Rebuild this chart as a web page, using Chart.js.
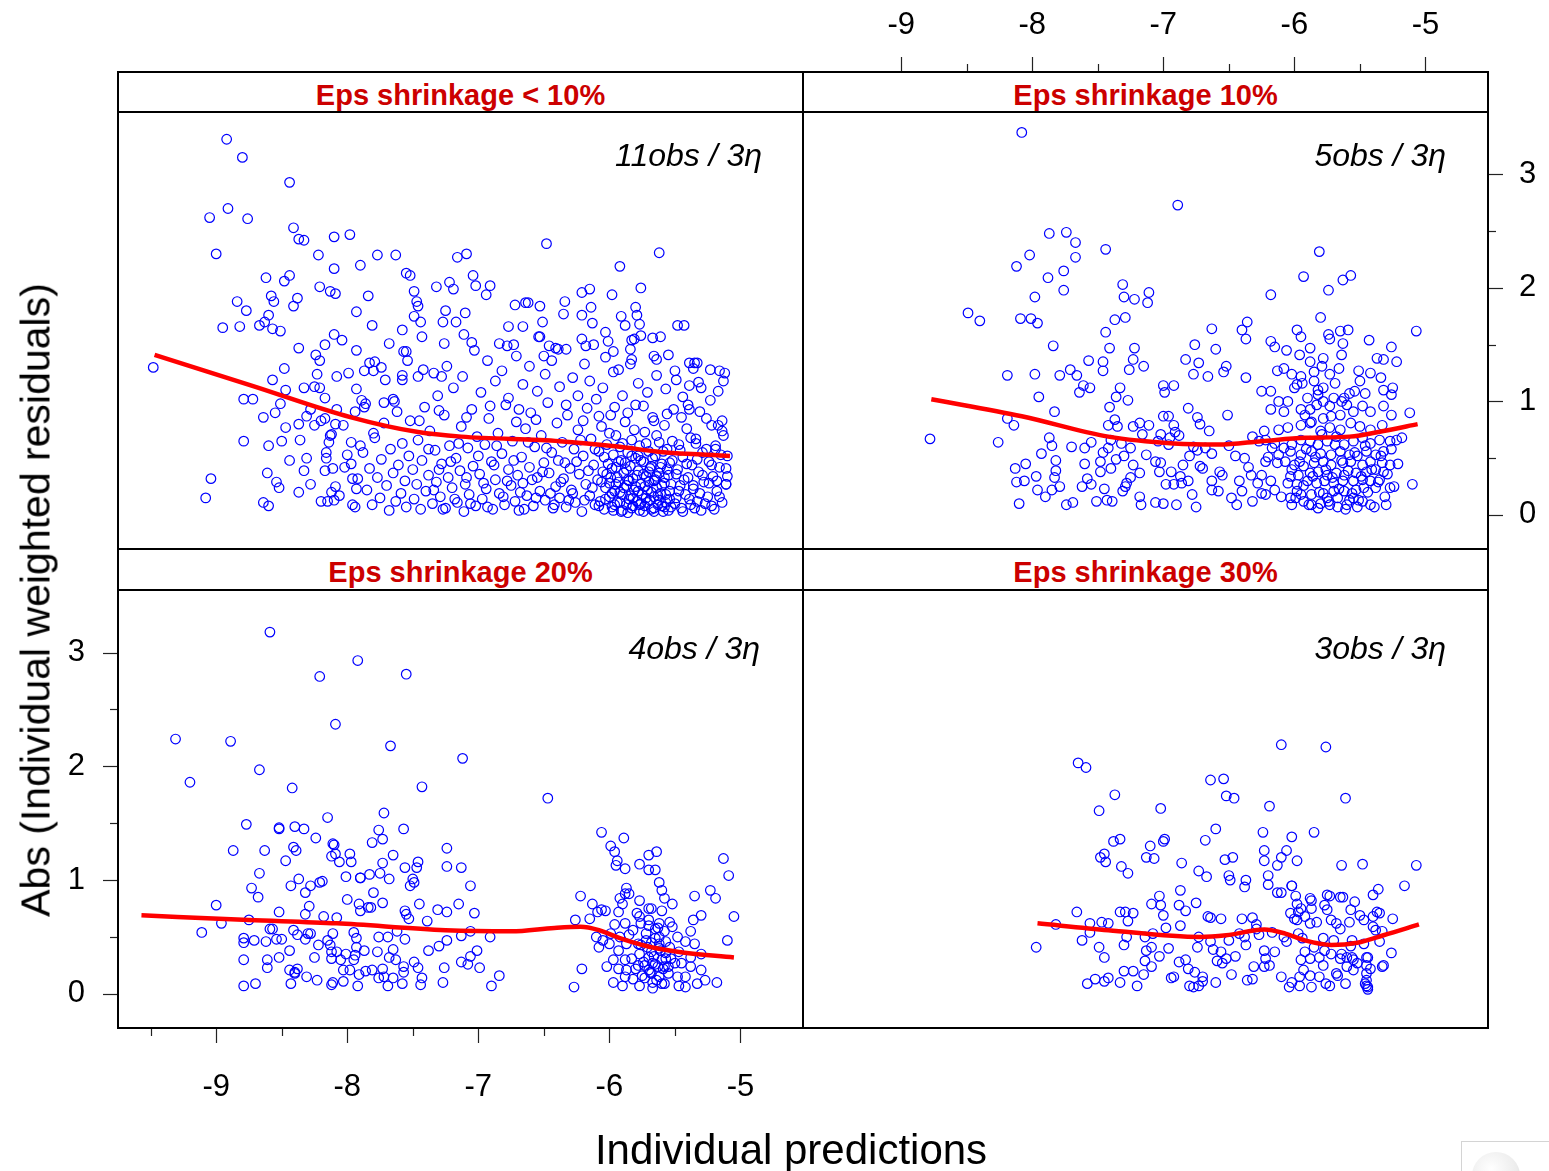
<!DOCTYPE html>
<html>
<head>
<meta charset="utf-8">
<script src="https://cdn.jsdelivr.net/npm/chart.js@4.4.1/dist/chart.umd.min.js"></script>
<style>
  html, body { margin: 0; padding: 0; background: #fff; }
  #page { position: relative; width: 1549px; height: 1171px; overflow: hidden; background: #fff;
          font-family: 'Liberation Sans', Arial, sans-serif; }
  canvas { position: absolute; z-index: 1; }
  .strip { position: absolute; z-index: 2; background: #fff; color: #cc0000; font-weight: bold;
           font-size: 29px; display: flex; align-items: center; justify-content: center; line-height: 1;
           box-sizing: border-box; padding-top: 6px; }
  .hl { position: absolute; z-index: 3; height: 2px; background: #000; }
  .vl { position: absolute; z-index: 3; width: 2px; background: #000; }
  .note { position: absolute; z-index: 4; font-style: italic; font-size: 32px; line-height: 1;
          white-space: nowrap; transform: translate(-100%, -50%); }
  .title { position: absolute; z-index: 4; white-space: nowrap; line-height: 1; color: #000; }
  #corner { position: absolute; left: 1461px; top: 1141px; width: 100px; height: 40px;
            border: 1px solid #d4d4d4; background: #fff; z-index: 4; }
  #corner span { position: absolute; left: 10px; top: 10px; width: 48px; height: 48px; border-radius: 50%;
                 background: radial-gradient(circle at 40% 35%, #ffffff 0%, #ececec 60%, #cfcfcf 100%); }
</style>
</head>
<body>
<div id="page">
  <canvas id="cLt10" width="685" height="437" style="left:118px;top:112px"></canvas>
  <canvas id="c10" width="746" height="549" style="left:803px;top:0px"></canvas>
  <canvas id="c20" width="803" height="581" style="left:0px;top:590px"></canvas>
  <canvas id="c30" width="685" height="438" style="left:803px;top:590px"></canvas>

  <div class="strip" id="s0" style="left:118px;top:72px;width:685px;height:40px"></div>
  <div class="strip" id="s1" style="left:803px;top:72px;width:685px;height:40px"></div>
  <div class="strip" id="s2" style="left:118px;top:549px;width:685px;height:41px"></div>
  <div class="strip" id="s3" style="left:803px;top:549px;width:685px;height:41px"></div>

  <div class="hl" style="left:117px;top:71px;width:1372px"></div>
  <div class="hl" style="left:117px;top:111px;width:1372px"></div>
  <div class="hl" style="left:117px;top:548px;width:1372px"></div>
  <div class="hl" style="left:117px;top:589px;width:1372px"></div>
  <div class="hl" style="left:117px;top:1027px;width:1372px"></div>
  <div class="vl" style="left:117px;top:71px;height:958px"></div>
  <div class="vl" style="left:802px;top:71px;height:958px"></div>
  <div class="vl" style="left:1487px;top:71px;height:958px"></div>

  <div class="note" id="n0" style="left:762px;top:155px"></div>
  <div class="note" id="n1" style="left:1446px;top:155px"></div>
  <div class="note" id="n2" style="left:760px;top:648px"></div>
  <div class="note" id="n3" style="left:1446px;top:648px"></div>

  <div class="title" style="left:791px;top:1150px;font-size:42px;transform:translate(-50%,-50%)">Individual predictions</div>
  <div class="title" style="left:36px;top:600px;font-size:41px;transform:translate(-50%,-50%) rotate(-90deg)">Abs (Individual weighted residuals)</div>
  <div id="corner"><span></span></div>
</div>
<script>
// panel labels
const stripLabels = ['Eps shrinkage < 10%', 'Eps shrinkage 10%', 'Eps shrinkage 20%', 'Eps shrinkage 30%'];
const designLabels = ['11obs / 3\u03b7', '5obs / 3\u03b7', '4obs / 3\u03b7', '3obs / 3\u03b7'];

// axis ticks (integers labelled, halves as short marks)
const xTicksTop = [-9, -8.5, -8, -7.5, -7, -6.5, -6, -5.5, -5];
const xTicksBottom = [-9.5, -9, -8.5, -8, -7.5, -7, -6.5, -6, -5.5, -5];
const yTicks = [0, 0.5, 1, 1.5, 2, 2.5, 3];

// |IWRES| vs IPRED, one array of [ipred, |iwres|] per shrinkage level
const ptsLt10 = [
  [-8.92,3.31],[-8.80,3.15],[-8.44,2.93],[-9.05,2.62],[-8.91,2.70],[-8.76,2.61],[-8.41,2.53],[-8.37,2.43],[-8.33,2.42],[-8.10,2.45],
  [-7.98,2.47],[-9.00,2.30],[-8.22,2.29],[-7.77,2.29],[-7.63,2.29],[-7.90,2.20],[-7.16,2.27],[-8.62,2.09],[-8.44,2.11],[-8.48,2.06],
  [-8.10,2.17],[-7.55,2.13],[-7.52,2.11],[-8.21,2.01],[-8.13,1.97],[-8.09,1.95],[-7.84,1.93],[-7.49,1.97],[-7.32,2.01],[-7.22,2.05],
  [-7.19,1.99],[-8.58,1.93],[-8.56,1.88],[-8.38,1.91],[-8.41,1.84],[-8.84,1.88],[-8.77,1.80],[-7.47,1.88],[-7.46,1.84],[-7.49,1.75],
  [-7.44,1.70],[-7.93,1.79],[-8.60,1.76],[-8.63,1.70],[-8.67,1.67],[-8.57,1.64],[-8.51,1.62],[-8.95,1.65],[-8.82,1.66],[-7.25,1.80],
  [-7.27,1.70],[-7.17,1.70],[-7.81,1.67],[-7.58,1.63],[-7.43,1.57],[-8.10,1.59],[-8.04,1.54],[-7.26,1.51],[-8.37,1.47],[-8.17,1.50],
  [-8.24,1.41],[-8.21,1.36],[-7.93,1.45],[-7.68,1.51],[-7.55,1.44],[-9.48,1.30],[-8.48,1.29],[-8.23,1.24],[-8.08,1.22],[-7.99,1.25],
  [-7.83,1.34],[-7.79,1.35],[-7.74,1.30],[-7.87,1.27],[-7.80,1.27],[-7.54,1.36],[-7.57,1.44],[-8.57,1.19],[-8.47,1.10],[-8.79,1.02],
  [-8.72,1.02],[-8.51,0.98],[-8.55,0.90],[-8.64,0.86],[-8.33,1.12],[-8.25,1.13],[-8.21,1.12],[-8.17,1.03],[-7.93,1.11],[-7.71,1.19],
  [-7.58,1.23],[-7.58,1.19],[-7.46,1.22],[-7.42,1.28],[-7.34,1.25],[-7.28,1.22],[-7.89,1.01],[-7.86,0.98],[-7.87,0.95],[-7.72,0.99],
  [-7.65,1.02],[-7.64,1.00],[-8.79,0.65],[-8.60,0.61],[-8.50,0.65],[-8.36,0.66],[-8.47,0.77],[-8.37,0.80],[-8.31,0.87],[-8.25,0.79],
  [-8.20,0.83],[-8.17,0.85],[-8.09,0.80],[-8.03,0.79],[-8.28,0.93],[-8.08,0.93],[-7.94,0.91],[-8.13,0.70],[-8.14,0.64],[-7.97,0.64],
  [-7.90,0.61],[-7.80,0.72],[-8.44,0.48],[-8.31,0.50],[-8.33,0.39],[-8.16,0.50],[-8.17,0.39],[-8.11,0.41],[-8.61,0.37],[-8.54,0.29],
  [-8.52,0.24],[-8.37,0.20],[-9.04,0.32],[-9.08,0.15],[-8.64,0.11],[-8.60,0.08],[-8.15,0.12],[-8.10,0.13],[-8.09,0.25],[-8.12,0.20],
  [-7.97,0.45],[-8.00,0.53],[-7.94,0.07],[-7.96,0.32],[-7.92,0.32],[-8.28,0.27],[-8.20,0.12],[-8.16,0.55],[-8.06,0.17],[-8.02,0.42],
  [-7.96,0.09],[-7.93,0.23],[-8.12,0.71],
  [-6.48,2.39],[-5.62,2.31],[-5.92,2.19],[-7.09,2.30],[-7.04,2.11],[-7.02,2.02],[-6.91,2.02],[-6.94,1.94],[-5.76,2.00],[-5.98,1.94],
  [-6.21,1.96],[-6.15,1.99],[-6.72,1.85],[-6.64,1.87],[-6.62,1.87],[-6.53,1.84],[-6.34,1.88],[-6.35,1.77],[-7.10,1.78],[-5.80,1.83],
  [-5.79,1.76],[-5.91,1.75],[-5.77,1.68],[-5.88,1.67],[-6.14,1.83],[-6.21,1.76],[-6.13,1.69],[-6.77,1.66],[-6.66,1.66],[-6.51,1.70],
  [-6.54,1.57],[-5.48,1.67],[-5.43,1.67],[-6.03,1.61],[-6.01,1.53],[-5.76,1.58],[-5.83,1.54],[-5.81,1.55],[-5.67,1.56],[-5.61,1.57],
  [-7.11,1.59],[-7.05,1.52],[-6.84,1.51],[-6.78,1.49],[-6.73,1.50],[-6.53,1.57],[-6.46,1.49],[-6.39,1.46],[-6.41,1.47],[-6.50,1.40],
  [-6.21,1.55],[-6.18,1.49],[-6.12,1.50],[-6.03,1.39],[-5.97,1.44],[-5.84,1.46],[-5.83,1.37],[-5.93,1.28],[-5.66,1.40],[-5.64,1.37],
  [-5.55,1.41],[-5.50,1.27],[-5.39,1.34],[-5.35,1.34],[-5.33,1.34],[-5.23,1.28],[-5.16,1.27],[-5.13,1.18],[-5.32,1.17],[-5.39,1.14],
  [-5.14,0.83],[-5.17,0.79],[-5.14,0.74],[-5.19,0.58],[-5.11,0.41],[-5.10,0.34],[-5.11,0.27],[-5.40,0.97],[-5.39,0.93],[-5.34,0.63],
  [-7.88,0.55],[-7.85,0.22],[-7.83,0.41],[-7.81,0.09],[-7.79,0.68],[-7.77,0.33],[-7.75,0.15],[-7.74,0.49],[-7.72,0.81],[-7.70,0.26],
  [-7.68,0.04],[-7.67,0.58],[-7.65,0.37],[-7.63,0.12],[-7.62,0.91],[-7.61,0.44],[-7.59,0.19],[-7.58,0.63],[-7.56,0.30],[-7.55,0.07],
  [-7.53,0.52],[-7.52,0.83],[-7.50,0.40],[-7.49,0.14],[-7.47,0.27],[-7.46,0.66],[-7.44,0.05],[-7.43,0.48],[-7.41,0.95],[-7.40,0.21],
  [-7.38,0.35],[-7.37,0.74],[-7.35,0.10],[-7.33,0.57],[-7.32,0.29],[-7.31,1.05],[-7.29,0.16],[-7.28,0.45],[-7.26,0.88],[-7.25,0.06],
  [-7.23,0.33],[-7.22,0.61],[-7.20,0.24],[-7.19,1.12],[-7.17,0.50],[-7.16,0.11],[-7.14,0.39],[-7.13,0.78],[-7.11,0.03],[-7.10,0.27],
  [-7.08,0.59],[-7.07,0.18],[-7.05,0.93],[-7.04,0.43],[-7.02,0.08],[-7.01,0.69],[-7.24,1.31],[-7.12,1.22],[-7.03,1.45],[-6.98,1.08],
  [-6.93,1.36],[-6.87,1.18],[-6.82,1.27],[-6.77,1.03],[-6.71,1.40],[-6.66,1.15],[-6.61,1.31],[-6.55,1.09],[-6.49,1.24],[-6.44,1.36],
  [-6.38,1.13],[-6.33,1.46],[-6.28,1.21],[-6.24,1.05],[-6.19,1.33],[-6.15,1.18],[-6.99,0.36],[-6.97,0.14],[-6.95,0.62],[-6.94,0.23],
  [-6.92,0.85],[-6.90,0.47],[-6.89,0.05],[-6.87,0.31],[-6.85,0.72],[-6.84,0.19],[-6.82,0.54],[-6.80,0.09],[-6.79,0.97],[-6.77,0.40],
  [-6.75,0.26],[-6.74,0.65],[-6.72,0.12],[-6.71,0.82],[-6.70,0.35],[-6.69,0.04],[-6.67,0.51],[-6.66,0.28],[-6.64,0.76],[-6.63,0.17],
  [-6.61,0.42],[-6.60,0.90],[-6.58,0.08],[-6.57,0.60],[-6.55,0.33],[-6.53,0.21],[-6.52,0.70],[-6.50,0.46],[-6.49,0.13],[-6.47,0.99],
  [-6.46,0.37],[-6.44,0.55],[-6.43,0.06],[-6.41,0.25],[-6.40,0.81],[-6.39,0.48],[-6.38,0.15],[-6.36,0.64],[-6.35,0.32],[-6.33,0.07],
  [-6.32,0.88],[-6.30,0.41],[-6.29,0.22],[-6.27,0.58],[-6.26,0.11],[-6.24,0.75],[-6.23,0.36],[-6.21,0.03],[-6.20,0.52],[-6.18,0.27],
  [-6.17,0.94],[-6.15,0.17],[-6.14,0.67],[-6.12,0.44],[-6.11,0.09],[-6.10,1.02],[-6.09,0.31],[-6.08,0.56],[-6.07,0.12],[-6.06,0.78],
  [-6.05,0.38],[-6.04,0.05],[-6.03,0.24],[-6.02,0.62],[-6.01,0.45],[-6.00,0.16],[-5.99,0.88],[-5.99,0.33],[-5.98,0.07],[-5.97,0.53],
  [-5.96,0.21],[-5.95,0.70],[-5.95,0.42],[-5.94,0.11],[-5.93,0.29],[-5.92,0.60],[-5.91,0.03],[-5.91,0.48],[-5.90,0.18],[-5.89,0.37],
  [-5.88,0.82],[-5.87,0.09],[-5.87,0.26],[-5.86,0.55],[-5.85,0.14],[-5.84,0.43],[-5.83,0.66],[-5.83,0.06],[-5.82,0.32],[-5.81,0.22],
  [-5.80,0.97],[-5.80,0.50],[-5.79,0.12],[-5.78,0.39],[-5.77,0.04],[-5.77,0.61],[-5.76,0.27],[-5.75,0.18],[-5.74,0.47],[-5.73,0.08],
  [-5.73,0.73],[-5.72,0.34],[-5.71,0.22],[-5.70,0.56],[-5.69,0.13],[-5.69,0.41],[-5.68,0.05],[-5.67,0.86],[-5.66,0.30],[-5.66,0.16],
  [-5.65,0.52],[-5.64,0.24],[-5.63,0.09],[-5.62,0.64],[-5.62,0.37],[-5.61,0.19],[-5.60,0.45],[-5.59,0.03],[-5.58,0.28],[-5.58,0.79],
  [-5.57,0.11],[-5.56,0.58],[-5.55,0.35],[-5.54,0.21],[-5.53,0.07],[-5.52,0.48],[-5.51,0.93],[-5.49,0.15],[-5.48,0.40],[-5.47,0.62],
  [-5.46,0.26],[-5.45,0.06],[-5.44,0.51],[-5.42,0.18],[-5.41,0.76],[-5.40,0.33],[-5.38,0.09],[-5.37,0.44],[-5.36,0.23],[-5.34,0.67],
  [-5.33,0.12],[-5.32,0.38],[-5.30,0.04],[-5.29,0.55],[-5.28,0.29],[-5.26,0.85],[-5.25,0.16],[-5.24,0.47],[-5.22,0.08],[-5.21,0.34],
  [-5.19,0.61],[-5.18,0.21],[-5.16,0.42],[-5.14,0.11],[-5.13,0.70],[-5.11,0.27],[-5.10,0.52],[-6.05,1.12],[-5.97,1.26],[-5.90,1.05],
  [-5.84,1.33],[-5.78,1.16],[-5.71,1.08],[-5.64,1.23],[-5.57,1.11],[-5.49,1.19],[-5.44,1.04],[-5.36,1.29],[-5.30,1.12],[-5.23,1.01],
  [-5.17,1.09],[-5.12,1.25],[-6.03,0.14],[-6.00,0.28],[-5.98,0.41],[-5.96,0.09],[-5.94,0.33],[-5.92,0.20],[-5.90,0.04],[-5.88,0.46],
  [-5.86,0.31],[-5.84,0.17],[-5.82,0.08],[-5.80,0.25],[-5.78,0.52],[-5.76,0.10],[-5.74,0.36],[-5.72,0.15],[-5.70,0.29],[-5.68,0.43],
  [-5.66,0.06],[-5.64,0.34],[-5.62,0.13],[-5.60,0.26],[-5.58,0.07],[-5.56,0.40],[-5.54,0.14],
  [-6.28,0.19],[-6.25,0.47],[-6.22,0.66],[-6.19,0.13],[-6.16,0.39],[-6.13,0.24],[-6.11,0.58],[-6.08,0.08],[-6.06,0.29],[-6.04,0.51],
  [-6.02,0.36],[-6.00,0.72],[-5.98,0.19],[-5.97,0.04],[-5.95,0.27],[-5.93,0.47],[-5.92,0.11],[-5.90,0.63],[-5.89,0.24],[-5.87,0.40],
  [-5.86,0.02],[-5.85,0.30],[-5.83,0.52],[-5.82,0.15],[-5.81,0.75],[-5.79,0.35],[-5.78,0.21],[-5.77,0.09],[-5.76,0.48],[-5.74,0.03],
  [-5.73,0.25],[-5.72,0.63],[-5.71,0.11],[-5.70,0.38],[-5.68,0.20],[-5.67,0.50],[-5.66,0.03],[-5.65,0.31],[-5.64,0.70],[-5.63,0.17],
  [-5.61,0.42],[-5.60,0.08],[-5.59,0.56],[-5.58,0.33],[-5.57,0.18],[-5.55,0.04],[-5.54,0.46],[-5.53,0.27],[-5.52,0.65],[-5.50,0.10],
  [-5.49,0.36],[-5.47,0.21],[-5.46,0.57],[-5.44,0.03],[-5.43,0.31],[-5.41,0.45],[-5.39,0.14],[-5.38,0.68],[-5.36,0.26],[-5.35,0.06],
  [-5.33,0.49],[-5.31,0.19],[-5.29,0.35],[-5.27,0.10],[-5.26,0.58],[-5.24,0.28],[-5.22,0.44],[-5.20,0.05],[-5.18,0.30],[-5.16,0.16],
  [-5.15,0.53],[-7.38,0.58],[-7.34,0.22],[-7.30,0.40],[-7.27,0.05],[-7.21,0.47],[-7.18,0.14],[-7.15,0.63],[-7.09,0.33],[-7.06,0.10],
  [-7.00,0.52],[-6.96,0.28],[-6.93,0.07],[-6.88,0.44],[-6.86,0.61],[-6.81,0.16],[-6.78,0.30],[-6.73,0.48],[-6.68,0.20],[-6.65,0.05],
  [-6.62,0.64],[-6.59,0.31],[-6.56,0.15],[-6.51,0.38],[-6.48,0.59],[-6.45,0.19],[-6.42,0.09],[-6.37,0.29],[-6.34,0.46],[-6.31,0.13],
  [-6.08,0.87],[-5.96,0.95],[-5.86,0.90],[-5.74,0.96],[-5.66,0.83],[-5.56,0.89],[-5.45,0.86],[-5.31,0.91],[-5.22,0.79],[-6.20,0.83],
  [-6.33,0.97],[-6.56,0.84],[-6.69,0.93],[-6.91,0.96],[-7.09,0.86],[-7.30,0.92],[-7.45,0.83]
];

const pts10 = [
  [-8.08,3.37],[-6.89,2.73],[-7.87,2.48],[-7.74,2.49],[-7.67,2.40],[-8.02,2.29],[-8.12,2.19],[-7.67,2.27],[-7.44,2.34],[-7.88,2.09],
  [-7.76,2.15],[-7.76,1.98],[-7.98,1.92],[-7.31,2.03],[-7.30,1.92],[-7.22,1.90],[-7.11,1.96],[-7.12,1.87],[-8.49,1.78],[-8.40,1.71],
  [-8.09,1.73],[-8.01,1.73],[-7.96,1.69],[-7.37,1.72],[-7.29,1.74],[-7.44,1.61],[-7.84,1.49],[-7.41,1.47],[-7.22,1.47],[-7.57,1.36],
  [-7.46,1.35],[-7.46,1.27],[-7.23,1.37],[-7.26,1.28],[-7.15,1.31],[-8.19,1.23],[-7.98,1.24],[-7.79,1.23],[-7.71,1.28],[-7.66,1.23],
  [-7.61,1.14],[-7.56,1.12],[-7.64,1.08],[-7.33,1.12],[-7.36,1.04],[-7.27,1.01],[-7.95,1.04],[-7.83,0.91],[-7.41,0.95],[-8.19,0.85],
  [-8.14,0.79],[-7.87,0.68],[-8.26,0.64],[-8.78,0.67],[-7.85,0.61],[-7.93,0.54],[-7.82,0.48],[-7.82,0.39],[-8.05,0.45],[-8.13,0.41],
  [-8.12,0.29],[-8.06,0.30],[-7.97,0.34],[-7.96,0.22],[-7.90,0.16],[-7.85,0.22],[-7.79,0.25],[-7.83,0.33],[-8.10,0.10],[-7.74,0.09],
  [-7.69,0.11],
  [-7.42,0.79],[-7.37,0.84],[-7.35,0.78],[-7.40,0.66],[-7.32,0.63],[-7.42,0.59],[-7.46,0.55],[-7.55,0.64],[-7.60,0.59],[-7.48,0.47],
  [-7.36,0.49],[-7.30,0.52],[-7.40,0.41],[-7.48,0.38],[-7.58,0.32],[-7.62,0.25],[-7.55,0.27],[-7.51,0.12],[-7.43,0.13],[-7.39,0.12],
  [-7.29,0.25],[-7.31,0.21],[-7.28,0.28],[-7.18,0.16],[-7.17,0.09],[-7.18,0.37],[-7.23,0.44],[-7.25,0.59],[-7.23,0.78],[-7.18,0.81],
  [-7.11,0.79],[-7.16,0.71],[-7.04,0.65],[-6.96,0.62],[-7.06,0.47],[-7.02,0.46],[-7.03,0.38],[-7.06,0.11],[-7.00,0.10],[-6.90,0.09],
  [-6.94,0.38],[-6.92,0.27],[-6.86,0.28],[-6.81,0.30],[-6.85,0.44],[-6.87,0.34],[-6.77,0.60],[-6.74,0.57],[-6.68,0.59],[-6.63,0.54],
  [-6.72,0.43],[-6.70,0.41],[-6.78,0.18],[-6.75,0.07],[-6.63,0.30],[-6.63,0.22],[-6.57,0.38],[-6.55,0.35],[-6.48,0.15],[-6.45,0.52],
  [-6.38,0.50],[-6.42,0.30],[-6.40,0.21],[-6.32,0.12],[-6.33,0.35],[-6.25,0.35],[-6.22,0.18],[-6.18,0.30],[-6.25,0.19],[-7.00,0.87],
  [-6.96,0.87],[-6.92,0.79],[-6.91,0.73],[-6.88,0.70],[-7.02,0.71],[-6.95,0.68],[-6.81,0.94],[-6.74,0.86],[-6.72,0.80],[-6.51,0.88],
  [-6.60,1.46],[-6.63,1.64],[-6.76,1.50],[-6.73,1.34],[-6.83,1.37],[-6.77,1.24],[-6.66,1.22],[-6.54,1.26],[-6.52,1.31],[-6.37,1.21],
  [-6.92,1.14],[-7.00,1.14],[-6.99,1.08],[-6.40,1.63],[-6.36,1.70],[-6.37,1.55],[-6.18,1.94],[-6.18,1.53],[-6.15,1.48],[-6.06,1.45],
  [-5.96,1.41],[-5.88,1.47],[-5.98,1.63],[-5.95,1.57],[-5.93,2.10],[-5.81,2.32],[-5.80,1.74],[-5.74,1.98],[-5.63,2.07],[-5.57,2.11],
  [-5.74,1.59],[-5.73,1.55],[-5.63,1.51],[-5.59,1.63],[-5.65,1.62],[-5.43,1.54],[-5.26,1.48],[-5.07,1.62],[-5.64,1.41],[-5.78,1.38],
  [-5.88,1.35],[-5.79,1.31],[-5.66,1.29],[-5.73,1.24],[-5.85,1.26],[-6.13,1.27],[-6.08,1.29],[-6.02,1.24],[-5.95,1.22],[-5.94,1.16],
  [-5.85,1.18],[-5.82,1.10],[-5.69,1.16],[-5.78,1.12],[-5.51,1.27],[-5.50,1.18],[-5.42,1.25],[-5.37,1.38],[-5.32,1.37],[-5.22,1.35],
  [-5.34,1.21],[-5.32,1.10],[-5.25,1.12],[-5.26,1.06],[-5.46,1.07],[-5.54,1.09],[-6.18,1.09],[-6.25,1.09],[-6.12,1.00],[-6.05,1.00],
  [-6.08,0.91],[-6.18,0.93],[-6.00,1.12],[-5.98,1.15],[-5.90,1.03],[-5.82,1.06],[-5.78,1.00],[-5.70,1.03],[-5.62,1.03],[-5.58,1.07],
  [-5.60,0.97],[-5.64,1.00],[-5.73,0.96],[-5.83,0.97],[-5.95,0.93],[-5.88,0.93],[-5.92,0.88],[-5.87,0.82],[-5.78,0.85],[-5.72,0.87],
  [-5.65,0.88],[-5.55,0.91],[-5.48,0.96],[-5.42,0.91],[-5.32,0.96],[-5.26,0.88],[-5.12,0.90],[-5.33,0.79],[-5.42,0.75],[-5.50,0.78],
  [-5.57,0.81],[-5.65,0.75],[-5.73,0.77],[-5.80,0.74],[-5.88,0.81],[-5.95,0.79],[-6.05,0.77],[-6.12,0.75],[-6.23,0.74],[-6.32,0.69],
  [-6.27,0.65],[-6.22,0.66],[-6.15,0.63],[-6.08,0.59],[-6.02,0.62],[-5.95,0.66],[-5.88,0.65],[-5.82,0.62],[-5.75,0.65],[-5.68,0.69],
  [-5.62,0.62],[-5.55,0.65],[-5.48,0.68],[-5.42,0.63],[-5.35,0.66],[-5.27,0.65],[-5.22,0.66],[-5.18,0.68],[-5.32,0.56],[-5.38,0.53],
  [-5.45,0.56],[-5.52,0.52],[-5.58,0.53],[-5.65,0.56],[-5.72,0.53],[-5.80,0.54],[-5.87,0.56],[-5.95,0.53],[-6.03,0.56],[-6.12,0.53],
  [-6.17,0.59],[-6.22,0.47],[-6.13,0.46],[-6.07,0.47],[-6.00,0.44],[-5.93,0.43],[-5.85,0.46],[-5.78,0.47],[-5.72,0.44],[-5.63,0.46],
  [-5.57,0.47],[-5.48,0.44],[-5.42,0.47],[-5.33,0.46],[-5.27,0.44],[-5.32,0.38],[-5.38,0.40],[-5.45,0.38],[-5.53,0.37],[-5.62,0.35],
  [-5.68,0.37],[-5.75,0.35],[-5.82,0.38],[-5.88,0.37],[-5.97,0.35],[-6.03,0.34],[-6.05,0.28],[-5.98,0.27],[-5.90,0.30],[-5.83,0.28],
  [-5.77,0.30],[-5.70,0.28],[-5.63,0.30],[-5.55,0.30],[-5.48,0.31],[-5.42,0.30],[-5.35,0.31],[-5.27,0.24],[-5.10,0.27],[-5.30,0.09],
  [-5.42,0.09],[-5.48,0.12],[-5.55,0.15],[-5.60,0.09],[-5.67,0.07],[-5.73,0.09],[-5.80,0.10],[-5.87,0.09],[-5.93,0.12],[-6.02,0.09],
  [-6.03,0.15],[-6.10,0.16],[-5.95,0.18],[-5.87,0.18],[-5.78,0.19],[-5.70,0.21],[-5.62,0.21],[-5.53,0.22],[-5.47,0.24],[-5.38,0.24],
  [-5.67,0.15],[-5.75,0.15],[-5.58,0.13],[-5.98,0.21],[-5.52,0.07],[-5.82,0.06],
  [-6.02,0.40],[-5.99,0.15],[-5.96,0.47],[-5.93,0.26],[-5.91,0.58],[-5.89,0.09],[-5.86,0.34],[-5.84,0.51],[-5.81,0.20],[-5.79,0.71],
  [-5.76,0.40],[-5.74,0.12],[-5.71,0.33],[-5.69,0.62],[-5.66,0.23],[-5.64,0.48],[-5.61,0.05],[-5.59,0.39],[-5.56,0.19],[-5.54,0.55],
  [-5.51,0.13],[-5.49,0.34],[-5.46,0.61],[-5.44,0.20],[-5.41,0.40],[-5.39,0.07],[-5.36,0.29],[-5.34,0.52],[-5.31,0.16],[-5.29,0.36],
  [-5.26,0.58],[-5.24,0.25],[-5.21,0.45],[-6.15,0.22],[-6.20,0.51],[-6.28,0.28],[-6.35,0.42],[-6.44,0.09],[-6.50,0.61],[-6.58,0.21],
  [-6.65,0.74],[-6.80,0.52],[-6.98,0.27],[-7.13,0.53],[-7.25,0.33],[-7.45,0.23],[-7.60,0.45],[-7.70,0.60]
];

const pts20 = [
  [-8.59,3.18],[-7.92,2.93],[-8.21,2.79],[-7.55,2.81],[-8.09,2.37],[-9.31,2.24],[-8.89,2.22],[-7.67,2.18],[-7.12,2.07],[-8.67,1.97],
  [-9.20,1.86],[-8.42,1.81],[-7.43,1.82],[-6.47,1.72],[-7.72,1.59],[-8.15,1.55],[-8.77,1.49],[-8.52,1.45],[-8.52,1.46],[-8.40,1.47],
  [-8.33,1.45],[-7.57,1.45],[-7.76,1.44],[-7.73,1.36],[-7.81,1.33],[-8.24,1.37],[-8.11,1.32],[-8.10,1.31],[-8.87,1.26],[-8.63,1.26],
  [-8.41,1.29],[-8.39,1.26],[-8.47,1.17],[-8.12,1.21],[-8.09,1.23],[-8.06,1.16],[-7.98,1.23],[-7.97,1.16],[-7.65,1.22],[-7.73,1.15],
  [-7.75,1.06],[-7.68,1.01],[-7.83,1.05],[-7.90,1.02],[-8.01,1.03],[-7.46,1.16],[-7.47,1.11],[-7.56,1.11],[-7.50,1.01],[-7.49,0.98],
  [-7.52,0.95],[-7.24,1.28],[-7.24,1.12],[-7.13,1.11],[-7.06,0.95],[-8.67,1.06],[-8.73,0.93],[-8.68,0.85],[-8.37,1.01],[-8.43,0.95],
  [-8.28,0.95],[-8.32,0.89],[-8.21,0.98],[-8.19,0.99],[-9.00,0.78],[-8.96,0.62],[-9.11,0.54],[-8.75,0.65],[-8.52,0.72],[-8.29,0.77],
  [-8.32,0.70],[-8.18,0.68],[-8.08,0.67],[-8.00,0.83],[-7.91,0.79],[-7.90,0.73],[-7.84,0.76],[-7.82,0.76],[-7.73,0.80],[-7.80,0.89],
  [-7.90,1.02],[-7.56,0.73],[-7.55,0.70],[-7.53,0.66],[-7.45,0.79],[-7.39,0.64],[-7.31,0.74],[-7.24,0.72],[-7.15,0.79],[-7.03,0.71],
  [-8.79,0.49],[-8.79,0.45],[-8.71,0.47],[-8.62,0.46],[-8.59,0.57],[-8.57,0.57],[-8.54,0.48],[-8.50,0.48],[-8.44,0.38],[-8.38,0.52],
  [-8.41,0.56],[-8.30,0.53],[-8.28,0.53],[-8.32,0.48],[-8.22,0.43],[-8.15,0.47],[-8.13,0.43],[-8.11,0.53],[-8.08,0.37],[-8.12,0.31],
  [-8.05,0.30],[-8.01,0.35],[-7.95,0.54],[-7.93,0.49],[-7.93,0.41],[-7.95,0.30],[-7.94,0.34],[-7.87,0.38],[-7.77,0.37],[-7.76,0.50],
  [-7.69,0.50],[-7.62,0.55],[-7.56,0.48],[-7.68,0.32],[-7.63,0.30],[-7.65,0.39],[-7.49,0.28],[-7.46,0.23],[-7.38,0.38],[-7.30,0.42],
  [-7.24,0.47],[-7.13,0.51],[-7.06,0.55],[-7.01,0.38],[-7.06,0.33],[-7.13,0.28],[-7.08,0.26],[-6.99,0.23],[-6.91,0.50],[-8.79,0.30],
  [-8.61,0.30],[-8.61,0.23],[-8.52,0.32],[-8.44,0.21],[-8.40,0.19],[-8.38,0.22],[-8.31,0.15],[-8.23,0.12],[-8.12,0.08],[-8.11,0.10],
  [-8.03,0.11],[-8.03,0.21],[-7.98,0.21],[-7.91,0.17],[-7.92,0.07],[-7.86,0.20],[-7.81,0.21],[-7.76,0.14],[-7.73,0.22],[-7.72,0.15],
  [-7.65,0.14],[-7.69,0.07],[-7.58,0.09],[-7.57,0.19],[-7.57,0.24],[-7.43,0.14],[-7.44,0.08],[-7.27,0.10],[-7.26,0.23],[-6.90,0.07],
  [-6.84,0.16],[-8.70,0.09],[-8.79,0.07],[-8.43,0.09],[-8.40,0.18],[-8.25,0.32],[-8.12,0.37],
  [-6.06,1.42],[-5.89,1.37],[-5.99,1.30],[-5.96,1.25],[-5.94,1.17],[-5.95,1.13],[-5.88,1.10],[-5.77,1.14],[-5.70,1.22],[-5.64,1.25],
  [-5.70,1.09],[-5.65,1.09],[-5.62,0.98],[-5.60,0.91],[-5.58,0.84],[-5.52,0.79],[-5.87,0.93],[-5.88,0.88],[-5.85,0.88],[-5.92,0.84],
  [-5.90,0.79],[-5.77,0.82],[-6.22,0.86],[-6.13,0.79],[-6.06,0.74],[-6.09,0.72],[-6.15,0.66],[-6.26,0.65],[-6.03,0.73],[-5.93,0.72],
  [-5.96,0.61],[-5.88,0.62],[-5.79,0.71],[-5.77,0.68],[-5.70,0.75],[-5.68,0.75],[-5.60,0.73],[-5.76,0.62],[-5.70,0.65],[-5.62,0.62],
  [-5.54,0.63],[-5.52,0.59],[-5.65,0.57],[-5.58,0.55],[-5.82,0.56],[-5.85,0.52],[-5.92,0.50],[-5.99,0.53],[-6.10,0.50],[-6.05,0.47],
  [-6.08,0.41],[-6.00,0.44],[-5.93,0.38],[-5.87,0.44],[-5.78,0.44],[-5.72,0.47],[-5.65,0.49],[-5.57,0.46],[-5.48,0.50],[-5.42,0.46],
  [-5.35,0.44],[-5.38,0.55],[-5.36,0.65],[-5.30,0.69],[-5.23,0.91],[-5.19,0.84],[-5.35,0.86],[-5.13,1.19],[-5.09,1.04],[-5.05,0.68],
  [-5.10,0.47],[-5.30,0.35],[-5.38,0.32],[-5.47,0.37],[-5.54,0.41],[-5.62,0.40],[-5.68,0.37],[-5.77,0.35],[-5.83,0.31],[-5.88,0.30],
  [-5.97,0.30],[-6.02,0.24],[-5.93,0.22],[-5.87,0.21],[-5.80,0.22],[-5.73,0.25],[-5.67,0.27],[-5.60,0.30],[-5.53,0.31],[-5.45,0.27],
  [-5.38,0.24],[-5.30,0.21],[-5.42,0.15],[-5.48,0.15],[-5.55,0.18],[-5.62,0.15],[-5.68,0.18],[-5.75,0.16],[-5.82,0.13],[-5.88,0.15],
  [-5.97,0.10],[-5.90,0.07],[-5.77,0.07],[-5.67,0.10],[-5.58,0.09],[-5.47,0.07],[-5.42,0.06],[-5.33,0.09],[-5.18,0.10],[-5.27,0.12],
  [-6.21,0.22],[-6.27,0.06],[-5.70,0.32],[-5.63,0.24],[-5.58,0.24],[-5.70,0.21],[-5.57,0.31],[-5.62,0.50],[-5.50,0.27],[-5.74,0.28],
  [-5.71,0.41],[-5.69,0.19],[-5.66,0.33],[-5.64,0.12],[-5.61,0.38],[-5.59,0.22],[-5.57,0.36],[-5.72,0.53],[-5.68,0.45],[-5.63,0.58],
  [-5.76,0.43],[-5.73,0.14],[-5.65,0.26],[-5.60,0.09],[-5.70,0.60],[-5.78,0.25],[-5.55,0.24],[-5.62,0.44],[-5.67,0.05]
];

const pts30 = [
  [-6.10,2.19],[-5.76,2.17],[-7.65,2.03],[-7.59,1.99],[-6.64,1.88],[-6.54,1.89],[-7.37,1.75],[-6.52,1.74],[-6.46,1.72],[-5.61,1.72],
  [-6.19,1.65],[-7.49,1.61],[-7.02,1.63],[-6.60,1.45],[-6.68,1.35],[-6.24,1.42],[-6.02,1.38],[-5.85,1.42],[-7.38,1.34],[-7.33,1.36],
  [-7.10,1.30],[-7.00,1.34],[-6.99,1.36],[-7.48,1.20],[-7.45,1.23],[-7.44,1.16],[-7.13,1.20],[-7.07,1.19],[-6.86,1.15],[-7.32,1.12],
  [-7.27,1.06],[-6.73,1.08],[-6.67,1.03],[-6.50,1.04],[-6.49,1.00],[-6.37,1.00],[-6.38,0.94],[-6.53,1.18],[-6.47,1.20],[-6.23,1.26],
  [-6.23,1.17],[-6.10,1.20],[-6.06,1.26],[-5.98,1.17],[-6.13,1.13],[-6.20,1.04],[-6.20,0.96],[-6.02,0.95],[-5.64,1.13],[-5.48,1.14],
  [-5.07,1.13],[-5.16,0.95],[-5.36,0.92],[-5.40,0.87],[-6.87,0.91],[-7.03,0.86],[-7.09,0.79],[-7.02,0.78],[-6.88,0.78],[-6.83,0.73],
  [-6.75,0.80],[-6.13,0.89],[-6.10,0.89],[-5.99,0.86],[-6.02,0.95],[-7.66,0.72],[-7.33,0.72],[-7.29,0.72],[-7.23,0.71],[-7.00,0.69],
  [-7.27,0.64],[-7.82,0.61],[-7.56,0.62],[-7.47,0.63],[-7.42,0.62],[-6.66,0.68],[-6.64,0.67],[-6.56,0.66],[-6.40,0.66],[-6.32,0.67],
  [-6.29,0.61],
  [-7.97,0.41],[-7.62,0.47],[-7.56,0.54],[-7.49,0.41],[-7.45,0.32],[-7.28,0.50],[-7.30,0.43],[-7.14,0.50],[-7.08,0.53],[-7.13,0.38],
  [-7.09,0.41],[-6.98,0.58],[-6.96,0.40],[-6.87,0.60],[-6.74,0.41],[-6.73,0.50],[-6.64,0.46],[-6.62,0.39],[-6.56,0.37],[-6.50,0.47],
  [-6.45,0.33],[-6.37,0.43],[-6.29,0.57],[-6.23,0.38],[-6.15,0.37],[-6.06,0.46],[-5.97,0.53],[-5.92,0.37],[-5.85,0.41],[-5.81,0.32],
  [-5.65,0.57],[-5.56,0.47],[-5.64,0.35],[-5.56,0.32],[-5.45,0.32],[-5.35,0.46],[-5.26,0.36],[-5.32,0.25],[-6.42,0.53],[-6.38,0.50],
  [-6.27,0.52],[-6.17,0.54],[-6.08,0.50],[-5.94,0.49],[-5.78,0.49],[-5.70,0.47],[-5.57,0.42],[-5.47,0.44],[-5.38,0.56],[-5.33,0.55],
  [-7.58,0.09],[-7.52,0.13],[-7.45,0.11],[-7.42,0.14],[-7.33,0.10],[-7.20,0.07],[-7.30,0.20],[-7.23,0.20],[-7.14,0.29],[-7.09,0.24],
  [-7.15,0.17],[-7.03,0.33],[-6.94,0.14],[-6.92,0.15],[-6.88,0.28],[-6.83,0.30],[-6.81,0.22],[-6.80,0.07],[-6.77,0.06],[-6.73,0.07],
  [-6.70,0.11],[-6.76,0.19],[-6.70,0.15],[-6.60,0.10],[-6.59,0.29],[-6.55,0.27],[-6.52,0.31],[-6.48,0.17],[-6.36,0.12],[-6.32,0.13],
  [-6.31,0.24],[-6.23,0.24],[-6.22,0.31],[-6.19,0.25],[-6.10,0.15],[-6.04,0.06],[-6.02,0.10],[-5.96,0.15],[-5.96,0.07],[-5.93,0.21],
  [-5.88,0.16],[-5.87,0.06],[-5.81,0.15],[-5.78,0.25],[-5.76,0.09],[-5.73,0.07],[-5.68,0.18],[-5.67,0.16],[-5.61,0.09],[-5.60,0.24],
  [-5.55,0.21],[-5.52,0.27],[-5.45,0.25],[-5.45,0.18],[-5.45,0.07],[-5.44,0.06],[-5.42,0.22],[-5.33,0.24],[-5.44,0.32],[-5.60,0.32],
  [-5.65,0.31],[-5.55,0.30],[-5.95,0.30],[-5.88,0.31],[-5.77,0.38],[-5.72,0.35],
  [-5.98,0.79],[-5.95,0.75],[-5.88,0.84],[-5.87,0.82],[-5.75,0.87],[-5.73,0.86],[-5.65,0.85],[-5.63,0.85],[-5.77,0.78],[-5.75,0.74],
  [-5.87,0.75],[-5.92,0.68],[-5.98,0.65],[-6.00,0.66],[-5.97,0.72],[-6.03,0.71],[-5.88,0.62],[-5.83,0.63],[-5.72,0.65],[-5.68,0.62],
  [-5.58,0.63],[-5.57,0.74],[-5.54,0.81],[-5.50,0.69],[-5.47,0.65],[-5.40,0.59],[-5.37,0.72],[-5.35,0.71],[-5.25,0.66],[-5.40,0.68],
  [-5.45,0.12],[-5.46,0.09],[-5.44,0.04]
];

// loess smooths
const smoothLt10 = [[-9.47,1.41],[-8.73,1.14],[-7.97,0.86],[-7.46,0.73],[-7.13,0.69],[-6.38,0.65],[-5.92,0.60],[-5.61,0.555],[-5.08,0.52]];
const smooth10 = [[-8.77,1.02],[-8.08,0.87],[-7.42,0.69],[-6.92,0.63],[-6.58,0.62],[-6.25,0.65],[-5.92,0.68],[-5.58,0.69],[-5.32,0.74],[-5.06,0.80]];
const smooth20 = [[-9.57,0.69],[-8.75,0.65],[-8.08,0.62],[-7.25,0.56],[-6.75,0.55],[-6.42,0.58],[-6.22,0.59],[-6.08,0.56],[-5.92,0.49],[-5.75,0.43],[-5.48,0.37],[-5.05,0.32]];
const smooth30 = [[-7.96,0.62],[-7.42,0.56],[-6.72,0.50],[-6.52,0.515],[-6.23,0.565],[-6.07,0.53],[-5.92,0.47],[-5.72,0.43],[-5.52,0.45],[-5.32,0.515],[-5.05,0.61]];

const FONT = "'Liberation Sans', Arial, sans-serif";
const X_MIN = -9.749, X_MAX = -4.523;
const Y_MIN = -0.30, Y_MAX = 3.55;
const PANEL_H = 437, STRIP_H = 40;
// the top axis sits above the strip, so that panel's y range reaches up through it
const Y_MAX_STRIP = Y_MAX + (Y_MAX - Y_MIN) * STRIP_H / PANEL_H;

const toXY = arr => arr.map(p => ({ x: p[0], y: p[1] }));

// lattice style tick marks: long at integers, short at halves
const tickMarks = {
  id: 'tickMarks',
  afterDraw(chart, args, opts) {
    const ctx = chart.ctx, area = chart.chartArea;
    ctx.save();
    ctx.strokeStyle = '#222';
    ctx.lineWidth = 1.2;
    (opts.axes || []).forEach(a => {
      const s = chart.scales[a.id];
      a.values.forEach(v => {
        const len = Number.isInteger(v) ? 15 : 8;
        const p = Math.round(s.getPixelForValue(v)) + 0.5;
        ctx.beginPath();
        if (a.side === 'bottom') { ctx.moveTo(p, area.bottom); ctx.lineTo(p, area.bottom + len); }
        if (a.side === 'top') { ctx.moveTo(p, area.top); ctx.lineTo(p, area.top - len); }
        if (a.side === 'left') { ctx.moveTo(area.left, p); ctx.lineTo(area.left - len, p); }
        if (a.side === 'right') { ctx.moveTo(area.right, p); ctx.lineTo(area.right + len, p); }
        ctx.stroke();
      });
    });
    ctx.restore();
  }
};

function hiddenAxis(min, max) {
  return { type: 'linear', display: false, min: min, max: max };
}

function shownAxis(position, min, max, values, size, padding) {
  return {
    type: 'linear', position: position, min: min, max: max,
    grid: { display: false }, border: { display: false },
    ticks: {
      font: { family: FONT, size: 31 }, color: '#000', padding: padding,
      autoSkip: false, maxRotation: 0, minRotation: 0,
      callback: v => Number.isInteger(v) ? String(v) : ''
    },
    afterBuildTicks: s => { s.ticks = values.map(v => ({ value: v })); },
    afterFit: s => {
      // fixed box size, and no extra room kept for labels overhanging the ends
      if (position === 'top' || position === 'bottom') s.height = size; else s.width = size;
      s.paddingTop = 0; s.paddingBottom = 0; s.paddingLeft = 0; s.paddingRight = 0;
    }
  };
}

function panel(id, points, smooth, scales, axes) {
  new Chart(document.getElementById(id), {
    type: 'scatter',
    data: {
      datasets: [
        { data: toXY(smooth), showLine: true, borderColor: '#ff0000', borderWidth: 4.5,
          pointRadius: 0, cubicInterpolationMode: 'monotone', fill: false },
        { data: toXY(points), pointRadius: 4.8, pointBorderWidth: 1.2,
          pointBorderColor: '#0000ff', pointBackgroundColor: 'rgba(0,0,0,0)', showLine: false }
      ]
    },
    options: {
      responsive: false, animation: false, devicePixelRatio: 1,
      layout: { padding: 0, autoPadding: false },
      scales: scales,
      plugins: { legend: { display: false }, tooltip: { enabled: false }, tickMarks: { axes: axes } },
      events: []
    },
    plugins: [tickMarks]
  });
}

// top-left: no axes
panel('cLt10', ptsLt10, smoothLt10,
  { x: hiddenAxis(X_MIN, X_MAX), y: hiddenAxis(Y_MIN, Y_MAX) }, []);

// top-right: x axis on top, y axis on the right
panel('c10', pts10, smooth10,
  { x: shownAxis('top', X_MIN, X_MAX, xTicksTop, 72, 20),
    y: shownAxis('right', Y_MIN, Y_MAX_STRIP, yTicks, 61, 23) },
  [{ id: 'x', side: 'top', values: xTicksTop }, { id: 'y', side: 'right', values: yTicks }]);

// bottom-left: x axis at the bottom, y axis on the left
panel('c20', pts20, smooth20,
  { x: shownAxis('bottom', X_MIN, X_MAX, xTicksBottom, 143, 33),
    y: shownAxis('left', Y_MIN, Y_MAX, yTicks, 118, 25) },
  [{ id: 'x', side: 'bottom', values: xTicksBottom }, { id: 'y', side: 'left', values: yTicks }]);

// bottom-right: no axes
panel('c30', pts30, smooth30,
  { x: hiddenAxis(X_MIN, X_MAX), y: hiddenAxis(Y_MIN, Y_MAX) }, []);

stripLabels.forEach((t, i) => { document.getElementById('s' + i).textContent = t; });
designLabels.forEach((t, i) => { document.getElementById('n' + i).textContent = t; });
</script>
</body>
</html>
